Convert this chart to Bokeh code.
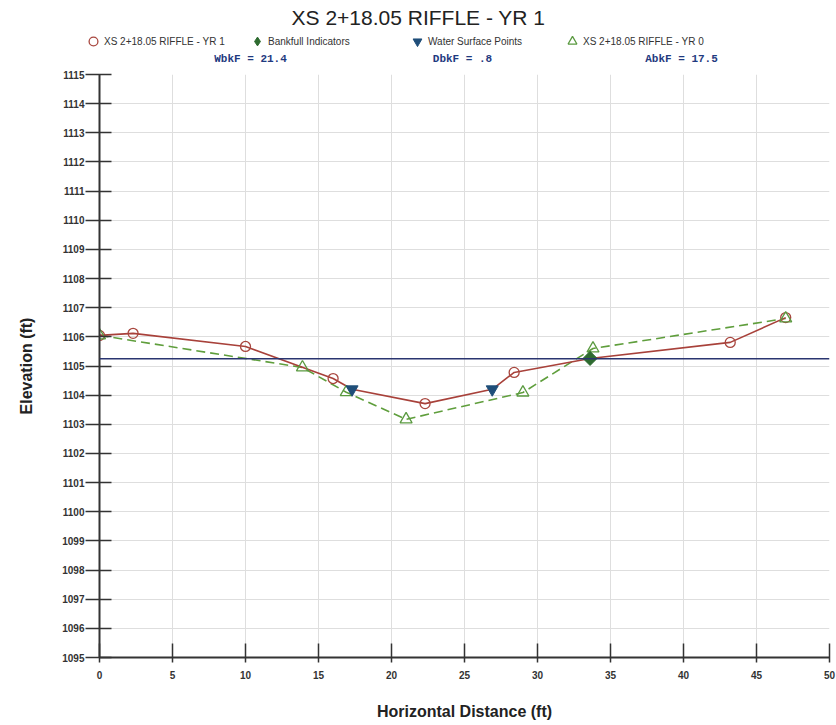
from math import pi
from bokeh.plotting import figure
from bokeh.layouts import column
from bokeh.models import Label, Legend, LegendItem, Span, FixedTicker, Range1d
from bokeh.embed import file_html
from bokeh.resources import INLINE

# ---------------- data ----------------
title_text = "XS 2+18.05 RIFFLE - YR 1"
yr1_name = "XS 2+18.05 RIFFLE - YR 1"
yr0_name = "XS 2+18.05 RIFFLE - YR 0"
bankfull_name = "Bankfull Indicators"
water_name = "Water Surface Points"
x_title = "Horizontal Distance (ft)"
y_title = "Elevation (ft)"

# Year 1 survey (station, elevation)
yr1_x = [0.0, 2.3, 10.0, 16.0, 17.3, 22.3, 26.9, 28.4, 33.6, 43.2, 47.0]
yr1_y = [1106.05, 1106.12, 1105.67, 1104.57, 1104.20, 1103.71, 1104.20, 1104.78, 1105.26, 1105.81, 1106.66]

# Year 0 survey
yr0_x = [0.0, 13.9, 16.9, 21.0, 29.0, 33.8, 47.0]
yr0_y = [1106.05, 1104.95, 1104.10, 1103.17, 1104.09, 1105.60, 1106.63]

# Water surface points
water_x = [17.3, 26.9]
water_y = [1104.20, 1104.20]

# Bankfull indicators
bankfull_x = [33.6]
bankfull_y = [1105.26]
bankfull_elev = 1105.25

# Bankfull summary values
wbkf = 21.4
dbkf = 0.8
abkf = 17.5

x_ticks = list(range(0, 51, 5))
y_ticks = list(range(1095, 1116))

# ---------------- styling ----------------
SANS = "Liberation Sans, Arial, sans-serif"
MONO = "Liberation Mono, DejaVu Sans Mono, monospace"

C_YR1 = "#a8413a"
C_YR1_M = "#a8463e"
C_YR0 = "#5f9e3c"
C_YR0_M = "#5a9a40"
C_BANK = "#2e6b30"
C_WATER = "#1f4e79"

W = 836
HEAD_H = 66

circ_style = dict(marker="circle", line_color=C_YR1_M, line_width=1.3, fill_alpha=0)
tri_style = dict(marker="triangle", line_color=C_YR0_M, line_width=1.3, fill_alpha=0)
bank_style = dict(marker="square", angle=pi / 4, line_color=C_BANK, fill_color=C_BANK)
bank_legend_style = dict(marker="diamond", line_color=C_BANK, fill_color=C_BANK)
water_style = dict(marker="inverted_triangle", line_color=C_WATER, fill_color=C_WATER)

# ---------------- header (title, legend, bankfull summary) ----------------
head = figure(width=W, height=HEAD_H, output_backend="svg", toolbar_location=None,
              x_range=Range1d(0, W), y_range=Range1d(HEAD_H, 0),
              min_border=0, min_border_left=0, min_border_right=0,
              min_border_top=0, min_border_bottom=0)
head.frame_align = False
head.axis.visible = False
head.grid.visible = False
head.outline_line_color = None

head.add_layout(Label(x=418, y=17, text=title_text, text_align="center",
                      text_baseline="middle", text_font=SANS, text_font_size="21px",
                      text_color="#222222"))

dbkf_txt = f"{dbkf:.1f}".lstrip("0")
for xx, txt in ((250, f"WbkF = {wbkf:.1f}"), (462, f"DbkF = {dbkf_txt}"),
                (681, f"AbkF = {abkf:.1f}")):
    head.add_layout(Label(x=xx, y=58, text=txt, text_align="center",
                          text_baseline="middle", text_font=MONO, text_font_style="bold",
                          text_font_size="11px", text_color="#1f3a80"))

# legend renderers: the series data, which lies outside the header's visible range
lr_yr1 = head.scatter(yr1_x, yr1_y, **circ_style)
lr_bank = head.scatter(bankfull_x, bankfull_y, **bank_legend_style)
lr_water = head.scatter(water_x, water_y, **water_style)
lr_yr0 = head.scatter(yr0_x, yr0_y, **tri_style)

for name, rend, gx in ((yr1_name, lr_yr1, 93), (bankfull_name, lr_bank, 257),
                       (water_name, lr_water, 417), (yr0_name, lr_yr0, 572)):
    lg = Legend(items=[LegendItem(label=name, renderers=[rend])], location=(gx - 11, HEAD_H - 52),
                orientation="horizontal", padding=0, margin=0, spacing=0,
                glyph_width=22, glyph_height=22, label_height=22, label_standoff=0,
                label_text_font=SANS, label_text_font_size="10px",
                label_text_color="#333333", border_line_color=None,
                background_fill_alpha=0)
    head.add_layout(lg, "center")

# ---------------- main plot ----------------
p = figure(width=W, height=725 - HEAD_H, output_backend="svg", toolbar_location=None,
           x_range=Range1d(0, 50), y_range=Range1d(1095, 1115),
           min_border_left=99, min_border_right=7, min_border_top=8, min_border_bottom=68)
p.frame_align = False
p.outline_line_color = None

for ax, ticks in ((p.xaxis[0], x_ticks), (p.yaxis[0], y_ticks)):
    ax.ticker = FixedTicker(ticks=ticks)
    ax.axis_line_color = "#333333"
    ax.axis_line_width = 2
    ax.major_tick_line_color = "#333333"
    ax.major_tick_line_width = 1.5
    ax.minor_tick_line_color = None
    ax.major_label_text_font = SANS
    ax.major_label_text_font_style = "bold"
    ax.major_label_text_font_size = "10px"
    ax.major_label_text_color = "#333333"
    ax.axis_label_text_font = SANS
    ax.axis_label_text_font_style = "bold"
    ax.axis_label_text_font_size = "16px"
    ax.axis_label_text_color = "#222222"

p.xaxis.axis_label = x_title
p.yaxis.axis_label = y_title
p.xaxis.major_tick_in = 14
p.xaxis.major_tick_out = 5
p.xaxis.major_label_standoff = 8
p.xaxis.axis_label_standoff = 21
p.yaxis.major_tick_in = 12
p.yaxis.major_tick_out = 14
p.yaxis.major_label_standoff = 1
p.yaxis.axis_label_standoff = 24

p.xgrid.ticker = FixedTicker(ticks=x_ticks)
p.ygrid.ticker = FixedTicker(ticks=y_ticks)
p.grid.grid_line_color = "#dedede"
p.grid.grid_line_width = 1

# bankfull line
p.add_layout(Span(location=bankfull_elev, dimension="width", line_color="#2a3570", line_width=1.5))

# lines
p.line(yr0_x, yr0_y, line_color=C_YR0, line_width=1.6, line_dash="9 5")
p.line(yr1_x, yr1_y, line_color=C_YR1, line_width=1.6)

# markers
circ_x = [x for x in yr1_x if x not in water_x and x not in bankfull_x]
circ_y = [y for x, y in zip(yr1_x, yr1_y) if x not in water_x and x not in bankfull_x]
p.scatter(circ_x, circ_y, size=10, **circ_style)
p.scatter(yr0_x, yr0_y, size=12, **tri_style)
p.scatter(bankfull_x, bankfull_y, size=10, **bank_style)
p.scatter(water_x, water_y, size=12, **water_style)

layout = column(head, p, spacing=0)
open("out.html", "w").write(file_html(layout, INLINE))
